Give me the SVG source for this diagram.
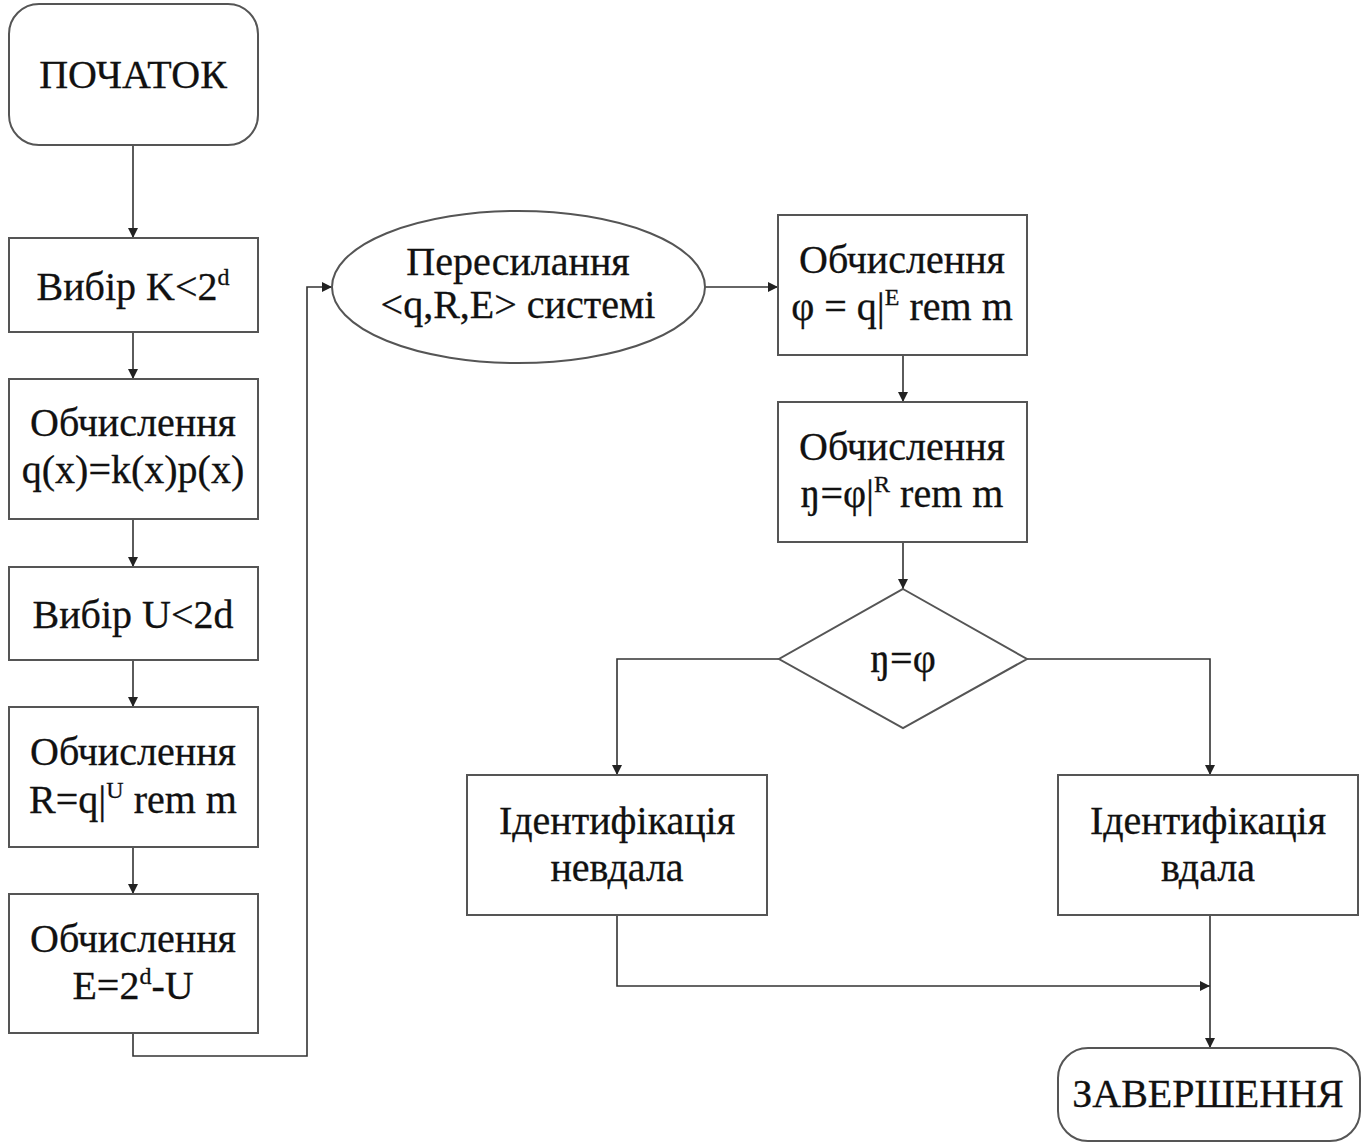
<svg xmlns="http://www.w3.org/2000/svg" width="1367" height="1146" viewBox="0 0 1367 1146">
  <defs>
    <marker id="arrow" viewBox="0 0 10 10" refX="10" refY="5" markerWidth="10" markerHeight="10" markerUnits="userSpaceOnUse" orient="auto">
      <path d="M0,0 L10,5 L0,10 Z" fill="#222"/>
    </marker>
  </defs>
  <style>
    .shape { fill: #fff; stroke: #555; stroke-width: 2; }
    .edge { fill: none; stroke: #333; stroke-width: 1.6; marker-end: url(#arrow); }
    text { font-family: "Liberation Serif", "Times New Roman", serif; font-size: 40px; fill: #111; stroke: #111; stroke-width: 0.3; text-anchor: middle; }
    .sup { font-size: 24px; }
  </style>
  <rect width="1367" height="1146" fill="#fff"/>

  <!-- connectors -->
  <g id="connectors">
    <line class="edge" x1="133" y1="145" x2="133" y2="238"/>
    <line class="edge" x1="133" y1="332" x2="133" y2="379"/>
    <line class="edge" x1="133" y1="519" x2="133" y2="567"/>
    <line class="edge" x1="133" y1="660" x2="133" y2="707"/>
    <line class="edge" x1="133" y1="847" x2="133" y2="894"/>
    <polyline class="edge" points="133,1033 133,1056 307,1056 307,287 332,287"/>
    <line class="edge" x1="705" y1="287" x2="778" y2="287"/>
    <line class="edge" x1="903" y1="355" x2="903" y2="402"/>
    <line class="edge" x1="903" y1="542" x2="903" y2="589"/>
    <polyline class="edge" points="779,659 617,659 617,775"/>
    <polyline class="edge" points="1027,659 1210,659 1210,775"/>
    <polyline class="edge" points="617,915 617,986 1210,986"/>
    <line class="edge" x1="1210" y1="915" x2="1210" y2="1048"/>
  </g>

  <g id="start">
    <rect class="shape" x="9" y="4" width="249" height="141" rx="30"/>
    <text x="133" y="88">ПОЧАТОК</text>
  </g>

  <g id="choose-k">
    <rect class="shape" x="9" y="238" width="249" height="94"/>
    <text x="133" y="300">Вибір K&lt;2<tspan class="sup" dy="-15">d</tspan></text>
  </g>

  <g id="calc-q">
    <rect class="shape" x="9" y="379" width="249" height="140"/>
    <text x="133" y="436">Обчислення</text>
    <text x="133" y="483">q(x)=k(x)p(x)</text>
  </g>

  <g id="choose-u">
    <rect class="shape" x="9" y="567" width="249" height="93"/>
    <text x="133" y="628">Вибір U&lt;2d</text>
  </g>

  <g id="calc-r">
    <rect class="shape" x="9" y="707" width="249" height="140"/>
    <text x="133" y="765">Обчислення</text>
    <text x="133" y="813">R=q|<tspan class="sup" dy="-15">U</tspan><tspan dy="15"> rem m</tspan></text>
  </g>

  <g id="calc-e">
    <rect class="shape" x="9" y="894" width="249" height="139"/>
    <text x="133" y="952">Обчислення</text>
    <text x="133" y="999">E=2<tspan class="sup" dy="-15">d</tspan><tspan dy="15">-U</tspan></text>
  </g>

  <g id="send">
    <ellipse class="shape" cx="518.5" cy="287" rx="186.5" ry="76"/>
    <text x="518" y="275">Пересилання</text>
    <text x="518" y="318">&lt;q,R,E&gt; системі</text>
  </g>

  <g id="calc-phi">
    <rect class="shape" x="778" y="215" width="249" height="140"/>
    <text x="902" y="273">Обчислення</text>
    <text x="902" y="320">φ = q|<tspan class="sup" dy="-15">E</tspan><tspan dy="15"> rem m</tspan></text>
  </g>

  <g id="calc-eta">
    <rect class="shape" x="778" y="402" width="249" height="140"/>
    <text x="902" y="460">Обчислення</text>
    <text x="902" y="507">ŋ=φ|<tspan class="sup" dy="-15">R</tspan><tspan dy="15"> rem m</tspan></text>
  </g>

  <g id="check">
    <polygon class="shape" points="903,589 1027,659 903,728 779,659"/>
    <text x="903" y="672">ŋ=φ</text>
  </g>

  <g id="fail">
    <rect class="shape" x="467" y="775" width="300" height="140"/>
    <text x="617" y="834">Ідентифікація</text>
    <text x="617" y="881">невдала</text>
  </g>

  <g id="success">
    <rect class="shape" x="1058" y="775" width="300" height="140"/>
    <text x="1208" y="834">Ідентифікація</text>
    <text x="1208" y="881">вдала</text>
  </g>

  <g id="finish">
    <rect class="shape" x="1058" y="1048" width="302" height="93" rx="30"/>
    <text x="1208" y="1107">ЗАВЕРШЕННЯ</text>
  </g>
</svg>
